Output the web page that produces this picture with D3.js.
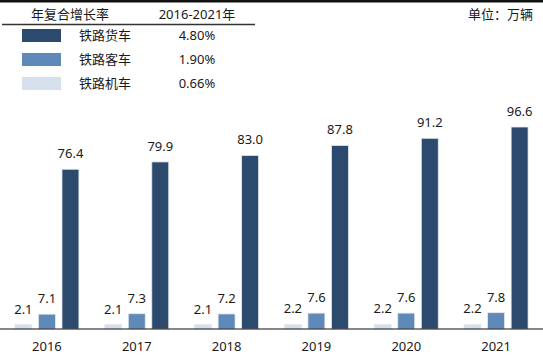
<!DOCTYPE html>
<html><head><meta charset="utf-8">
<script src="https://cdn.jsdelivr.net/npm/d3@7"></script>
<style>
html,body{margin:0;padding:0;background:#fff;}
text{font-family:"Noto Sans","Noto Sans CJK SC",sans-serif;fill:#1a1a1a;}
</style></head>
<body><svg id="c" width="543" height="355"></svg>
<script>
const years = ["2016","2017","2018","2019","2020","2021"];
const seriesNames = ["铁路机车","铁路客车","铁路货车"];
const locomotive = [2.1,2.1,2.1,2.2,2.2,2.2];
const passenger = [7.1,7.3,7.2,7.6,7.6,7.8];
const freight = [76.4,79.9,83.0,87.8,91.2,96.6];
const cagrNames = ["铁路货车","铁路客车","铁路机车"];
const cagrValues = ["4.80%","1.90%","0.66%"];
const headerLabels = ["年复合增长率","2016-2021年"];
const unitLabel = "单位：万辆";

const colors = {"铁路机车":"#d6dfec","铁路客车":"#5f89b8","铁路货车":"#2c4a6d"};
const values = {"铁路机车":locomotive,"铁路客车":passenger,"铁路货车":freight};

const svg = d3.select("#c");
const baseY = 329;
const x0 = d3.scaleBand().domain(years).range([2,541]);
const x1 = d3.scaleBand().domain(seriesNames).range([0,64]).paddingInner(0.28);
const y = d3.scaleLinear().domain([0,96.6]).range([baseY, 127]);

// top thick line
svg.append("line").attr("x1",0).attr("x2",543).attr("y1",1).attr("y2",1)
  .attr("stroke","#111").attr("stroke-width",3);

const g = svg.append("g");
years.forEach((yr,i)=>{
  const gx = x0(yr) + x0.bandwidth()/2 - 32;
  seriesNames.forEach(s=>{
    const v = values[s][i];
    g.append("rect").attr("x",gx + x1(s)).attr("y",y(v))
      .attr("width",x1.bandwidth()).attr("height",baseY - y(v))
      .attr("fill",colors[s]).attr("stroke","#e4e8ee").attr("stroke-width",0.8);
    g.append("text").attr("x",gx + x1(s) + x1.bandwidth()/2).attr("y",y(v)-11)
      .attr("text-anchor","middle").attr("font-size",13).text(v.toFixed(1));
  });
});

// baseline axis
const xAxis = d3.axisBottom(x0).tickSize(0).tickPadding(13);
const ax = svg.append("g").attr("transform",`translate(0,${baseY})`).call(xAxis);
ax.select(".domain").attr("stroke","#111").attr("stroke-width",1.2).attr("d","M0,0H543");
ax.selectAll("text").attr("font-size",13).attr("fill","#1a1a1a")
  .style("font-family",'"Noto Sans",sans-serif');

// legend table
svg.append("text").attr("x",70).attr("y",19).attr("text-anchor","middle").attr("font-size",13).text(headerLabels[0]);
svg.append("text").attr("x",197).attr("y",19).attr("text-anchor","middle").attr("font-size",13).text(headerLabels[1]);
svg.append("line").attr("x1",2).attr("x2",255).attr("y1",24.5).attr("y2",24.5).attr("stroke","#333").attr("stroke-width",1.3);
cagrNames.forEach((n,i)=>{
  const ry = 29 + i*24;
  svg.append("rect").attr("x",22).attr("y",ry).attr("width",39).attr("height",13).attr("fill",colors[n]);
  svg.append("text").attr("x",79).attr("y",ry+11).attr("font-size",13).text(n);
  svg.append("text").attr("x",197).attr("y",ry+11).attr("text-anchor","middle").attr("font-size",13).text(cagrValues[i]);
});
svg.append("text").attr("x",533).attr("y",19).attr("text-anchor","end").attr("font-size",13).text(unitLabel);
</script></body></html>
